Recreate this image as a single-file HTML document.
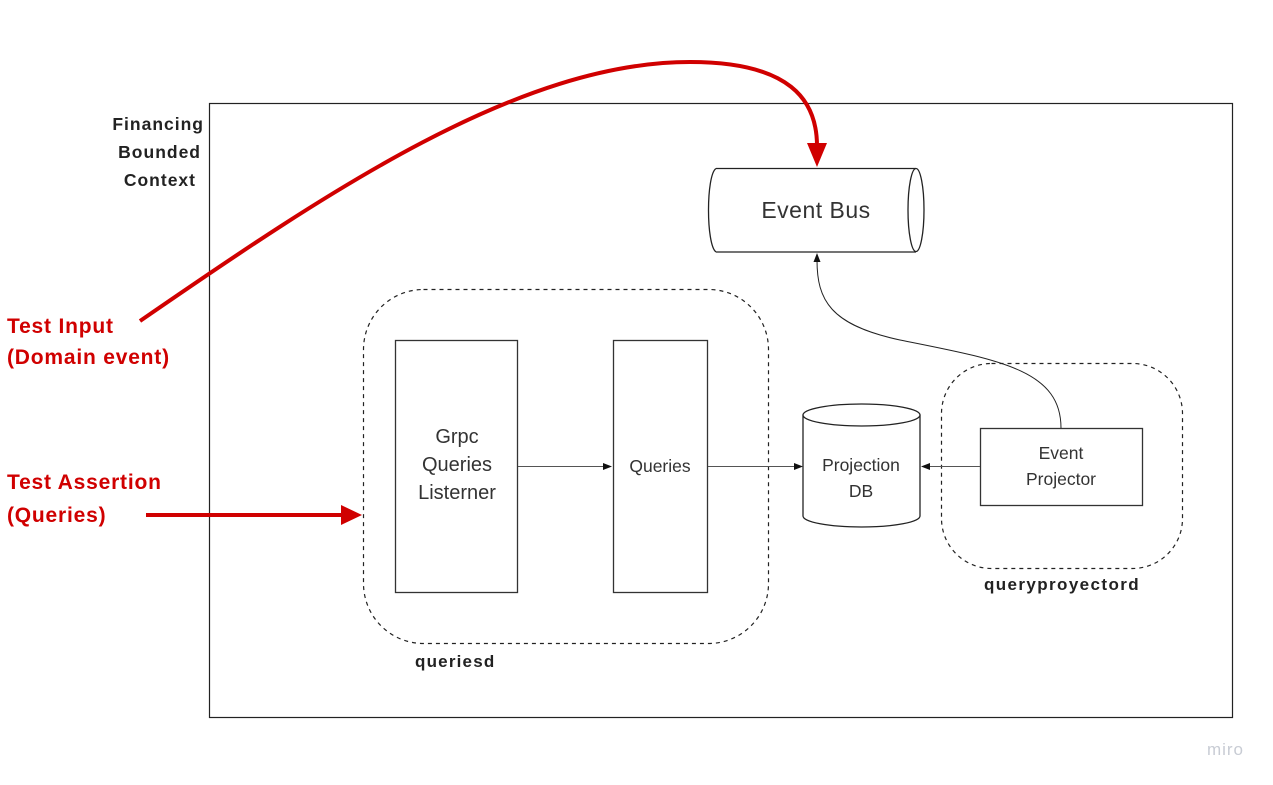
<!DOCTYPE html>
<html><head><meta charset="utf-8"><style>
html,body{margin:0;padding:0;background:#fff;}
svg{display:block;}
text{font-family:"Liberation Sans","DejaVu Sans",sans-serif;}
</style></head><body>
<svg width="1273" height="785" viewBox="0 0 1273 785" xmlns="http://www.w3.org/2000/svg">
<rect x="209.5" y="103.5" width="1023" height="614" fill="none" stroke="#222" stroke-width="1.2"/>
<g font-size="17.5" font-weight="bold" fill="#222" text-anchor="end" letter-spacing="1">
<text x="204" y="130">Financing</text>
<text x="201" y="158">Bounded</text>
<text x="196" y="186">Context</text>
</g>
<path d="M716,168.5 H916 M716,252 H916 M716,168.5 C706,175 706,245 716,252" fill="none" stroke="#222" stroke-width="1.3"/>
<ellipse cx="916" cy="210" rx="8" ry="41.5" fill="none" stroke="#222" stroke-width="1.3"/>
<text x="816" y="218" font-size="23" fill="#333" text-anchor="middle" letter-spacing="0.5">Event Bus</text>
<path d="M140,321 C330,190 520,62 690,62 C790,62 817,100 817,146" fill="none" stroke="#d00000" stroke-width="4"/>
<polygon points="807,143 827,143 817,167" fill="#d00000"/>
<g font-size="21" font-weight="bold" fill="#d00000" letter-spacing="0.8">
<text x="7" y="333">Test Input</text>
<text x="7" y="364">(Domain event)</text>
<text x="7" y="489">Test Assertion</text>
<text x="7" y="522">(Queries)</text>
</g>
<line x1="146" y1="515" x2="342" y2="515" stroke="#d00000" stroke-width="4"/>
<polygon points="341,505 362,515 341,525" fill="#d00000"/>
<rect x="363.5" y="289.5" width="405" height="354" rx="60" fill="none" stroke="#222" stroke-width="1.2" stroke-dasharray="4,4"/>
<text x="415" y="667" font-size="17" font-weight="bold" fill="#222" letter-spacing="1.2">queriesd</text>
<rect x="395.5" y="340.5" width="122" height="252" fill="none" stroke="#333" stroke-width="1.3"/>
<g font-size="20" fill="#333" text-anchor="middle">
<text x="457" y="443">Grpc</text>
<text x="457" y="471">Queries</text>
<text x="457" y="499">Listerner</text>
</g>
<rect x="613.5" y="340.5" width="94" height="252" fill="none" stroke="#333" stroke-width="1.3"/>
<text x="660" y="472" font-size="17.5" fill="#333" text-anchor="middle">Queries</text>
<line x1="518" y1="466.5" x2="606" y2="466.5" stroke="#555" stroke-width="1"/>
<polygon points="603,463 612,466.5 603,470" fill="#111"/>
<line x1="708" y1="466.5" x2="797" y2="466.5" stroke="#555" stroke-width="1"/>
<polygon points="794,463 803,466.5 794,470" fill="#111"/>
<path d="M803,415 V516 A58.5,11 0 0 0 920,516 V415" fill="#fff" stroke="#222" stroke-width="1.3"/>
<ellipse cx="861.5" cy="415" rx="58.5" ry="11" fill="#fff" stroke="#222" stroke-width="1.3"/>
<g font-size="17.5" fill="#333" text-anchor="middle">
<text x="861" y="471">Projection</text>
<text x="861" y="497">DB</text>
</g>
<rect x="941.5" y="363.5" width="241" height="205" rx="50" fill="none" stroke="#222" stroke-width="1.2" stroke-dasharray="4,4"/>
<text x="1062" y="590" font-size="17" font-weight="bold" fill="#222" text-anchor="middle" letter-spacing="1.4">queryproyectord</text>
<rect x="980.5" y="428.5" width="162" height="77" fill="#fff" stroke="#333" stroke-width="1.3"/>
<g font-size="17.5" fill="#333" text-anchor="middle">
<text x="1061" y="459">Event</text>
<text x="1061" y="485">Projector</text>
</g>
<line x1="980" y1="466.5" x2="928" y2="466.5" stroke="#555" stroke-width="1"/>
<polygon points="930,463 921,466.5 930,470" fill="#111"/>
<path d="M1061,428 C1061,370 1000,360 900,340 C830,325 817,300 817,260" fill="none" stroke="#222" stroke-width="1"/>
<polygon points="813.5,262 817,253 820.5,262" fill="#111"/>
<text x="1244" y="755" font-size="17" fill="#c8ccd4" text-anchor="end" letter-spacing="1">miro</text>
</svg>
</body></html>
